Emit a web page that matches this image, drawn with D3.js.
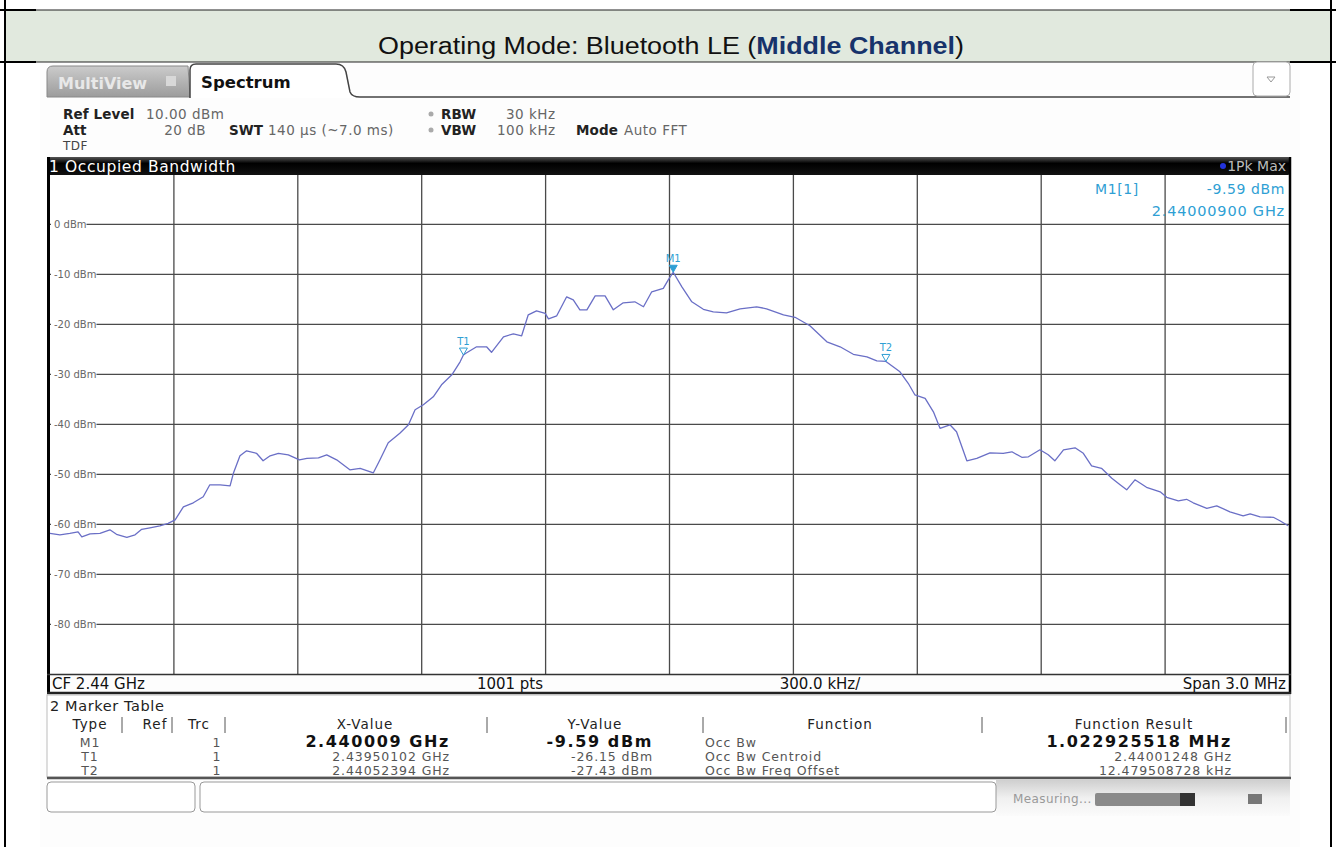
<!DOCTYPE html>
<html><head><meta charset="utf-8">
<script src="https://cdn.jsdelivr.net/npm/d3@7"></script>
<style>body{margin:0;background:#fff}svg{display:block}</style>
</head><body>
<svg id="c" width="1336" height="847"></svg>
<script>
// ---- data ----
const freqOffsetMHz = [-1.500,-1.476,-1.452,-1.432,-1.423,-1.403,-1.379,-1.355,-1.339,-1.314,-1.294,-1.278,-1.258,-1.234,-1.214,-1.197,-1.177,-1.153,-1.129,-1.113,-1.088,-1.064,-1.056,-1.040,-1.024,-1.000,-0.984,-0.967,-0.947,-0.923,-0.896,-0.878,-0.850,-0.830,-0.806,-0.774,-0.749,-0.717,-0.701,-0.681,-0.653,-0.632,-0.616,-0.596,-0.572,-0.552,-0.527,-0.507,-0.499,-0.493,-0.467,-0.443,-0.431,-0.402,-0.378,-0.358,-0.342,-0.322,-0.301,-0.293,-0.273,-0.249,-0.233,-0.217,-0.200,-0.180,-0.156,-0.136,-0.112,-0.084,-0.063,-0.043,-0.015,-0.003,0.009,0.030,0.054,0.082,0.106,0.138,0.171,0.211,0.235,0.276,0.304,0.340,0.381,0.413,0.445,0.478,0.502,0.524,0.558,0.578,0.594,0.619,0.639,0.655,0.679,0.695,0.720,0.744,0.776,0.808,0.829,0.853,0.869,0.897,0.917,0.933,0.954,0.982,1.002,1.022,1.046,1.071,1.091,1.107,1.127,1.155,1.188,1.204,1.232,1.252,1.268,1.301,1.325,1.357,1.389,1.406,1.430,1.462,1.478,1.498];
const levelDbm = [-61.8,-62.1,-61.8,-61.5,-62.5,-61.9,-61.8,-61.1,-62.0,-62.6,-62.1,-61.0,-60.7,-60.3,-59.8,-59.1,-56.5,-55.7,-54.5,-52.1,-52.1,-52.3,-49.8,-46.3,-45.3,-45.8,-47.3,-46.3,-45.8,-46.1,-47.1,-46.8,-46.7,-46.1,-47.1,-49.1,-48.8,-49.7,-47.1,-43.7,-41.8,-40.1,-37.1,-36.1,-34.5,-32.1,-30.1,-27.5,-26.15,-25.8,-24.5,-24.5,-25.6,-22.5,-21.9,-22.3,-18.1,-17.3,-17.8,-18.9,-18.3,-14.5,-15.1,-17.1,-17.1,-14.3,-14.3,-17.1,-15.7,-15.5,-16.5,-13.5,-12.8,-11.1,-9.59,-12.5,-15.5,-17.0,-17.5,-17.7,-16.9,-16.5,-16.9,-18.1,-18.6,-20.3,-23.5,-24.5,-26.0,-26.5,-27.3,-27.43,-29.5,-31.8,-34.1,-34.8,-37.5,-40.8,-40.1,-41.5,-47.3,-46.8,-45.7,-45.8,-45.5,-46.6,-46.5,-45.1,-46.1,-47.3,-45.1,-44.7,-45.8,-48.3,-48.8,-50.8,-52.1,-53.1,-51.1,-52.6,-53.5,-54.6,-55.3,-55.0,-55.7,-56.8,-56.3,-57.5,-58.3,-57.9,-58.5,-58.6,-59.3,-60.3];
const yTicks = [0,-10,-20,-30,-40,-50,-60,-70,-80];
const yTickLabels = ["0 dBm","-10 dBm","-20 dBm","-30 dBm","-40 dBm","-50 dBm","-60 dBm","-70 dBm","-80 dBm"];
const xGridMHz = [-1.2,-0.9,-0.6,-0.3,0,0.3,0.6,0.9,1.2];
const markerNames = ["M1","T1","T2"];
const markerFreqMHz = [0.009,-0.49898,0.52394];
const markerLevels = [-9.59,-26.15,-27.43];
const markerFilled = [true,false,false];
const tableHeaders = ["Type","Ref","Trc","X-Value","Y-Value","Function","Function Result"];
const tableTypes = ["M1","T1","T2"];
const tableTrc = ["1","1","1"];
const tableXValues = ["2.440009 GHz","2.43950102 GHz","2.44052394 GHz"];
const tableYValues = ["-9.59 dBm","-26.15 dBm","-27.43 dBm"];
const tableFunctions = ["Occ Bw","Occ Bw Centroid","Occ Bw Freq Offset"];
const tableResults = ["1.022925518 MHz","2.44001248 GHz","12.479508728 kHz"];
const footerLabels = ["CF 2.44 GHz","1001 pts","300.0 kHz/","Span 3.0 MHz"];
const readout = ["M1[1]","-9.59 dBm","2.44000900 GHz"];

// ---- drawing ----
const svg = d3.select("#c");
const UI = "'DejaVu Sans', Verdana, sans-serif";
const defs = svg.append("defs");
function grad(id, stops){const g=defs.append("linearGradient").attr("id",id).attr("x1",0).attr("y1",0).attr("x2",0).attr("y2",1);
  stops.forEach(s=>g.append("stop").attr("offset",s[0]).attr("stop-color",s[1]));}
grad("tabg",[["0","#cbcbcb"],["1","#9c9c9c"]]);
grad("barg",[["0","#555"],["0.35","#000"],["1","#111"]]);
grad("statg",[["0","#cfcfcf"],["0.5","#f0f0f0"],["1","#fbfbfb"]]);

// document frame
svg.append("rect").attr("x",5).attr("y",10).attr("width",1326).attr("height",52).attr("fill","#e1e9de").attr("stroke","#222").attr("stroke-width",1);
[[0,10,36,10],[1290,10,1336,10],[0,62,36,62],[1290,62,1336,62]].forEach(s=>svg.append("line").attr("x1",s[0]).attr("y1",s[1]).attr("x2",s[2]).attr("y2",s[3]).attr("stroke","#000").attr("stroke-width",2));
svg.append("line").attr("x1",5).attr("y1",0).attr("x2",5).attr("y2",847).attr("stroke","#000").attr("stroke-width",2);
svg.append("line").attr("x1",1331).attr("y1",0).attr("x2",1331).attr("y2",847).attr("stroke","#000").attr("stroke-width",2);
const title = svg.append("g").attr("transform","translate(671,54) scale(1.17,1)")
  .append("text").attr("x",0).attr("y",0).attr("text-anchor","middle")
  .attr("font-family","'Liberation Sans', Arial, sans-serif").attr("font-size",23).attr("fill","#111");
title.append("tspan").text("Operating Mode: Bluetooth LE (");
title.append("tspan").attr("font-weight","bold").attr("fill","#17336b").text("Middle Channel");
title.append("tspan").text(")");

// instrument background
svg.append("rect").attr("x",40).attr("y",63).attr("width",1260).attr("height",784).attr("fill","#fdfdfd");

// tabs
svg.append("path").attr("d","M47,97 L47,72 Q47,66 53,66 L188,66 L190,97 Z").attr("fill","url(#tabg)").attr("stroke","#888");
svg.append("text").attr("x",58).attr("y",89).attr("font-family",UI).attr("font-weight","bold").attr("font-size",16).attr("fill","#e8e8e8").text("MultiView");
svg.append("rect").attr("x",166).attr("y",76).attr("width",10).attr("height",10).attr("fill","#d8d8d8");
svg.append("path").attr("d","M190,98 L190,70 Q190,64 196,64 L336,64 Q344,64 346,72 L350,92 Q352,97 360,97 L1290,97")
  .attr("fill","#fff").attr("stroke","#444").attr("stroke-width",1.5);
svg.append("text").attr("x",201).attr("y",88).attr("font-family",UI).attr("font-weight","bold").attr("font-size",16.5).attr("fill","#111").text("Spectrum");
svg.append("rect").attr("x",1253).attr("y",62).attr("width",37).attr("height",34).attr("rx",4).attr("fill","#fff").attr("stroke","#aaa");
svg.append("path").attr("d","M1267,77 L1275,77 L1271,82 Z").attr("fill","none").attr("stroke","#999");

// info text
function info(x,y,t,bold,col,anchor,fs){svg.append("text").attr("x",x).attr("y",y).attr("font-family",UI).attr("font-size",fs||13.5)
  .attr("letter-spacing",bold?0.1:0.5).attr("font-weight",bold?"bold":"normal").attr("fill",col||(bold?"#222":"#666")).attr("text-anchor",anchor||"start").text(t);}
info(63,119,"Ref Level",true); info(146,119,"10.00 dBm",false);
info(63,135,"Att",true); info(206,135,"20 dB",false,null,"end");
info(229,135,"SWT",true); info(268,135,"140 µs (~7.0 ms)",false);
info(441,119,"RBW",true); info(506,119,"30 kHz",false);
info(441,135,"VBW",true); info(497,135,"100 kHz",false);
info(576,135,"Mode",true); info(624,135,"Auto FFT",false);
info(63,150,"TDF",false,"#444",null,12);
svg.append("circle").attr("cx",431).attr("cy",114).attr("r",2.5).attr("fill","#aaa");
svg.append("circle").attr("cx",431).attr("cy",130).attr("r",2.5).attr("fill","#aaa");

// title bar
svg.append("rect").attr("x",47).attr("y",157).attr("width",1243).attr("height",18).attr("rx",2).attr("fill","url(#barg)");
svg.append("text").attr("x",49).attr("y",172).attr("font-family",UI).attr("font-size",15.5).attr("letter-spacing",0.6).attr("fill","#fff").text("1 Occupied Bandwidth");
svg.append("circle").attr("cx",1223).attr("cy",166).attr("r",3).attr("fill","#2233dd");
svg.append("text").attr("x",1286).attr("y",171).attr("text-anchor","end").attr("font-family",UI).attr("font-size",14).attr("fill","#bbb").text("1Pk Max");

// plot
const x = d3.scaleLinear().domain([-1.5,1.5]).range([50,1289]);
const y = d3.scaleLinear().domain([10,-90]).range([174.3,674.3]);
svg.append("rect").attr("x",50).attr("y",175).attr("width",1239).attr("height",499).attr("fill","#fff");
const grid = svg.append("g").attr("stroke","#4a4a4a").attr("stroke-width",1.3);
grid.selectAll(".v").data(xGridMHz).join("line").attr("x1",d=>x(d)).attr("x2",d=>x(d)).attr("y1",175).attr("y2",674);
grid.selectAll(".h").data(yTicks).join("line").attr("x1",50).attr("x2",1289).attr("y1",d=>y(d)).attr("y2",d=>y(d));
const lab = svg.append("g").attr("font-family",UI).attr("font-size",10).attr("fill","#666");
yTicks.forEach((t,i)=>{
  const tx = lab.append("text").attr("x",54).attr("y",y(t)+3.5).text(yTickLabels[i]);
  const w = tx.node().getComputedTextLength();
  lab.insert("rect","text").attr("x",51).attr("y",y(t)-6).attr("width",w+3).attr("height",12).attr("fill","#fff");
});

// trace
const pts = freqOffsetMHz.map((f,i)=>[f,levelDbm[i]]);
svg.append("path").datum(pts).attr("fill","none").attr("stroke","#6a6fc6").attr("stroke-width",1.3)
  .attr("stroke-linejoin","round").attr("d",d3.line().x(d=>x(d[0])).y(d=>y(d[1])));

// markers
const MC = "#2f9fd4";
markerNames.forEach((n,i)=>{
  const mx = x(markerFreqMHz[i]), my = y(markerLevels[i]);
  svg.append("path").attr("d",`M${mx-4},${my-7} L${mx+4},${my-7} L${mx},${my} Z`)
    .attr("fill",markerFilled[i]?MC:"none").attr("stroke",MC).attr("stroke-width",1);
  svg.append("text").attr("x",mx).attr("y",my-10).attr("text-anchor","middle").attr("font-family",UI).attr("font-size",10).attr("fill",MC).text(n);
});
svg.append("text").attr("x",1095).attr("y",194).attr("font-family",UI).attr("font-size",14).attr("letter-spacing",0.6).attr("fill",MC).text(readout[0]);
svg.append("text").attr("x",1285).attr("y",194).attr("text-anchor","end").attr("font-family",UI).attr("font-size",14).attr("letter-spacing",0.6).attr("fill",MC).text(readout[1]);
svg.append("text").attr("x",1285).attr("y",216).attr("text-anchor","end").attr("font-family",UI).attr("font-size",14.5).attr("letter-spacing",0.8).attr("fill",MC).text(readout[2]);

// plot frame
svg.append("line").attr("x1",48.5).attr("x2",48.5).attr("y1",157).attr("y2",694).attr("stroke","#000").attr("stroke-width",3);
svg.append("line").attr("x1",1290).attr("x2",1290).attr("y1",157).attr("y2",694).attr("stroke","#000").attr("stroke-width",2.5);
svg.append("line").attr("x1",47).attr("x2",1291).attr("y1",674.5).attr("y2",674.5).attr("stroke","#333").attr("stroke-width",1.5);
svg.append("line").attr("x1",47).attr("x2",1291).attr("y1",693).attr("y2",693).attr("stroke","#222").attr("stroke-width",2.5);

// footer
const ft = svg.append("g").attr("font-family",UI).attr("font-size",15).attr("fill","#111");
ft.append("text").attr("x",52).attr("y",689).text(footerLabels[0]);
ft.append("text").attr("x",510).attr("y",689).attr("text-anchor","middle").text(footerLabels[1]);
ft.append("text").attr("x",820).attr("y",689).attr("text-anchor","middle").text(footerLabels[2]);
ft.append("text").attr("x",1286).attr("y",689).attr("text-anchor","end").text(footerLabels[3]);

// marker table
svg.append("rect").attr("x",47).attr("y",695).attr("width",1243).attr("height",82).attr("fill","#fff").attr("stroke","#bbb");
svg.append("line").attr("x1",47).attr("x2",1291).attr("y1",778).attr("y2",778).attr("stroke","#555").attr("stroke-width",2.5);
const tb = svg.append("g").attr("font-family",UI).attr("fill","#222");
tb.append("text").attr("x",50).attr("y",711).attr("font-size",14.5).attr("letter-spacing",0.6).text("2 Marker Table");
const hdrX = [90,155,199,365,595,840,1134];
tableHeaders.forEach((h,i)=>tb.append("text").attr("x",hdrX[i]).attr("y",729).attr("text-anchor","middle")
  .attr("font-size",13.5).attr("letter-spacing",1).text(h));
[122,172,225,487,703,982,1286].forEach(sx=>svg.append("line").attr("x1",sx).attr("x2",sx).attr("y1",717).attr("y2",733).attr("stroke","#555"));
const rowY = [746.5,761,775];
tableTypes.forEach((t,i)=>{
  const b = i===0;
  const bold = s=>s.attr("font-size",16).attr("font-weight","bold").attr("letter-spacing",1.6).attr("fill","#111");
  const reg = s=>s.attr("font-size",12.5).attr("letter-spacing",0.9).attr("fill","#555");
  const st = b?bold:reg;
  tb.append("text").attr("x",90).attr("y",rowY[i]).attr("text-anchor","middle").call(reg).text(t);
  tb.append("text").attr("x",217).attr("y",rowY[i]).attr("text-anchor","middle").call(reg).text(tableTrc[i]);
  tb.append("text").attr("x",450).attr("y",rowY[i]).attr("text-anchor","end").call(st).text(tableXValues[i]);
  tb.append("text").attr("x",653).attr("y",rowY[i]).attr("text-anchor","end").call(st).text(tableYValues[i]);
  tb.append("text").attr("x",705).attr("y",rowY[i]).call(reg).text(tableFunctions[i]);
  tb.append("text").attr("x",1232).attr("y",rowY[i]).attr("text-anchor","end").call(st).text(tableResults[i]);
});

// status bar
svg.append("rect").attr("x",996).attr("y",780).attr("width",294).attr("height",36).attr("fill","url(#statg)");
svg.append("rect").attr("x",47).attr("y",782).attr("width",148).attr("height",30).attr("rx",4).attr("fill","#fff").attr("stroke","#999");
svg.append("rect").attr("x",200).attr("y",782).attr("width",796).attr("height",30).attr("rx",4).attr("fill","#fff").attr("stroke","#999");
svg.append("text").attr("x",1013).attr("y",803).attr("font-family",UI).attr("font-size",12).attr("letter-spacing",0.4).attr("fill","#999").text("Measuring...");
svg.append("rect").attr("x",1095).attr("y",793).attr("width",100).attr("height",13).attr("rx",2).attr("fill","#8a8a8a");
svg.append("rect").attr("x",1180).attr("y",793).attr("width",15).attr("height",13).attr("fill","#333");
svg.append("rect").attr("x",1248).attr("y",794).attr("width",14).attr("height",10).attr("fill","#777");
</script>
</body></html>
